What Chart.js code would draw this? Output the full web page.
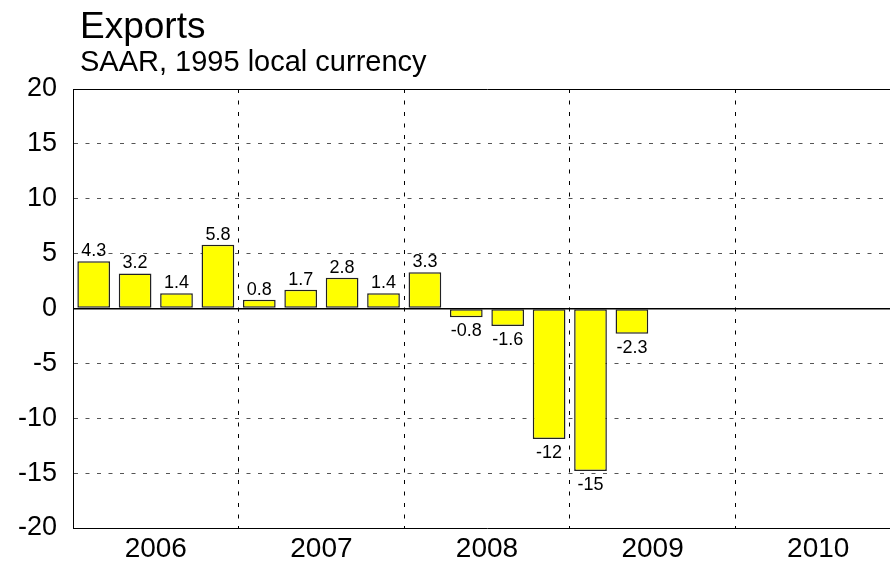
<!DOCTYPE html>
<html>
<head>
<meta charset="utf-8">
<script src="https://cdn.jsdelivr.net/npm/chart.js@4.4.0/dist/chart.umd.min.js"></script>
<style>
    html, body { margin: 0; padding: 0; background: #fff; overflow: hidden; }
    #wrap { position: absolute; left: 0; top: 0; width: 902px; height: 562px; }
</style>
</head>
<body>
<div id="wrap"><canvas id="exportsChart"></canvas></div>
<script>
const chartTitle = 'Exports';
const chartSubtitle = 'SAAR, 1995 local currency';
const years = ['2006', '2007', '2008', '2009', '2010'];
const quarters = ['Q1', 'Q2', 'Q3', 'Q4'];
// quarterly growth, 2006Q1 .. 2009Q2
const exportValues = [4.3, 3.2, 1.4, 5.8, 0.8, 1.7, 2.8, 1.4, 3.3, -0.8, -1.6, -11.9, -14.8, -2.3];
const yTicks = [-20, -15, -10, -5, 0, 5, 10, 15, 20];

const quarterLabels = years.flatMap(y => quarters.map(q => q + ' ' + y));

Chart.defaults.font.family = '"Liberation Sans", Arial, sans-serif';
Chart.defaults.color = '#000';

// Function to format the value shown over each bar
const formatValue = (v) => Math.abs(v) >= 10 ? String(Math.round(v)) : v.toFixed(1);

// Plugin to draw the title block in the top-left corner
const titlePlugin = {
    id: 'titleBlock',
    afterDraw(chart) {
        const ctx = chart.ctx;
        ctx.save();
        ctx.fillStyle = '#000';
        ctx.textAlign = 'left';
        ctx.textBaseline = 'alphabetic';
        ctx.font = '37px "Liberation Sans", Arial, sans-serif';
        ctx.fillText(chartTitle, 80, 38);
        ctx.font = '29px "Liberation Sans", Arial, sans-serif';
        ctx.fillText(chartSubtitle, 80, 71);
        ctx.restore();
    }
};

// Plugin to draw the value labels on the bars
const valueLabels = {
    id: 'valueLabels',
    afterDatasetsDraw(chart) {
        const ctx = chart.ctx;
        const meta = chart.getDatasetMeta(0);
        ctx.save();
        ctx.fillStyle = '#000';
        ctx.textAlign = 'center';
        ctx.textBaseline = 'alphabetic';
        ctx.font = '18px "Liberation Sans", Arial, sans-serif';
        meta.data.forEach((bar, i) => {
            const v = exportValues[i];
            if (v === undefined || v === null) return;
            const y = v >= 0 ? bar.y - 5 : bar.y + 19;
            ctx.fillText(formatValue(v), bar.x, y);
        });
        ctx.restore();
    }
};

const ctx = document.getElementById('exportsChart').getContext('2d');

new Chart(ctx, {
    type: 'bar',
    data: {
        labels: quarterLabels,
        datasets: [{
            label: chartTitle,
            data: exportValues,
            backgroundColor: '#ffff00',
            borderColor: '#222',
            borderWidth: 1.5,
            borderSkipped: false,
            barPercentage: 0.79,
            categoryPercentage: 1
        }]
    },
    options: {
        responsive: true,
        maintainAspectRatio: false,
        animation: false,
        layout: { padding: { top: 89, right: 1, left: 0, bottom: 0 } },
        plugins: {
            legend: { display: false },
            tooltip: { enabled: false }
        },
        scales: {
            x: {
                grid: {
                    offset: true,
                    drawTicks: false,
                    lineWidth: 1,
                    color: (c) => (c.index > 0 && c.index % 4 === 0) ? '#000' : 'transparent'
                },
                border: { display: true, color: '#000', width: 1, dash: [4, 7.5] },
                ticks: {
                    autoSkip: false,
                    maxRotation: 0,
                    padding: 4,
                    labelOffset: 20.7,
                    font: { size: 28 },
                    callback: (val, index) => index % 4 === 1 ? years[Math.floor(index / 4)] : ''
                },
                afterFit: (scale) => { scale.height = 34; }
            },
            y: {
                min: -20,
                max: 20,
                afterBuildTicks: (scale) => { scale.ticks = yTicks.map(v => ({ value: v })); },
                grid: {
                    drawTicks: false,
                    color: (c) => (c.tick && (c.tick.value === 0 || c.tick.value === 20)) ? '#000' : '#555',
                    lineWidth: (c) => (c.tick && c.tick.value === 0) ? 1.5 : 1
                },
                border: {
                    display: true,
                    color: '#000',
                    width: 1,
                    dash: (c) => (c.tick && (c.tick.value === 0 || c.tick.value === 20)) ? [] : [4, 7.5]
                },
                ticks: {
                    padding: 16,
                    font: { size: 27 }
                },
                afterFit: (scale) => { scale.width = 73; }
            }
        }
    },
    plugins: [titlePlugin, valueLabels]
});
</script>
</body>
</html>
